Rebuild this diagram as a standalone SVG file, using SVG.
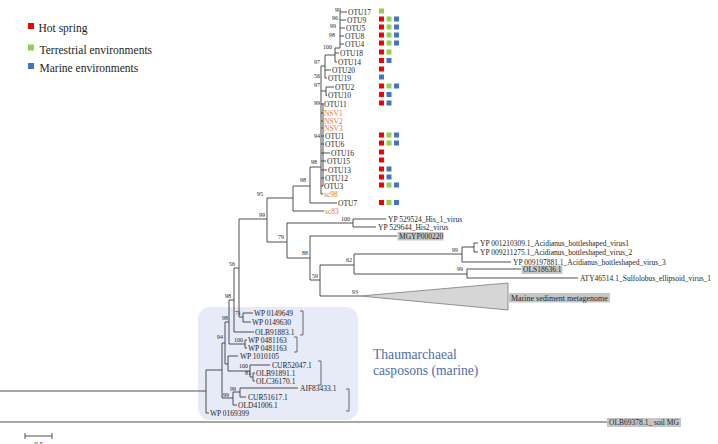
<svg xmlns="http://www.w3.org/2000/svg" width="718" height="444" viewBox="0 0 718 444">
<style>
text{font-family:"Liberation Serif","Times New Roman",serif;fill:#1e1e1e}
.t{font-size:7.5px}
.bs{font-size:6px;text-anchor:end}
.o{fill:#e07a35}
.lg{font-size:11.5px}
.ln{stroke:#3c3c3c;stroke-width:0.9;fill:none}
.br{stroke:#4a4a4a;stroke-width:0.8;fill:none}
.hl{fill:#c6c6c6}
.r{fill:#f40000}.g{fill:#92d050}.b{fill:#4472c4}
.big{font-size:13.6px;fill:#4f6ea6}
</style>
<rect width="718" height="444" fill="#ffffff"/>
<g id="legend">
<rect class="r" x="28" y="23" width="6" height="6"/><text class="lg" x="38.5" y="32">Hot spring</text>
<rect class="g" x="28" y="44.5" width="6" height="6"/><text class="lg" x="39.5" y="53.5">Terrestrial environments</text>
<rect class="b" x="28" y="63" width="6" height="6"/><text class="lg" x="39.5" y="71.5">Marine environments</text>
</g>
<g id="thaum-box">
<rect x="198" y="307" width="160" height="113" rx="12" fill="#e7eaf7"/>
<text class="big" x="373" y="359">Thaumarchaeal</text>
<text class="big" x="373" y="375">casposons (marine)</text>
</g>
<g id="connectors">
<path class="ln" d="M0 391H206M0 422H607
M206 370V413M206 413H209M206 370H222
M222 343V398M222 398H233M222 343H225
M233 392V405M233 405H237M233 392H240
M240 388V397M240 388H298M240 397H246
M225 322V364M225 364H228M225 322H229
M228 356V371M228 356H238M228 371H250
M250 365V377M250 365H270M250 377H253
M253 373V381M253 373H255M253 381H255
M229 300V344M229 344H245M229 300H234
M245 340V348M245 340H247M245 348H247
M234 268V332M234 332H254M234 268H239
M239 219V317M239 317H243M239 219H267
M243 313V322M243 313H253M243 322H251
M267 198V242M267 242H287M267 198H293
M287 223V258M287 223H353M287 258H310
M353 219V227M353 219H386M353 227H376
M310 236V280M310 236H397M310 280H320
M320 265V296M320 265H354M320 296H360
M354 254V274M354 254H462M354 274H467
M462 247V262M462 247H474M462 262H511
M474 243V252M474 243H478M474 252H478
M467 269V278M467 269H521M467 278H578
M293 186V211M293 211H324M293 186H310
M310 167V203M310 203H337M310 167H321
M321 66V194M323 103V186
M321 194H323M321 186H323M321 178H324M321 170H327M321 161H326M321 153H330M321 144H324M321 136H324
M321 128H323M321 121H323M321 113H323M321 104H323
M326 87V95.5M326 87H334M326 95.5H327M321 91H326
M325 55V78M325 55H335M325 70H331M325 78H327M321 66H325
M335 48V62M335 53H339M335 62H337
M340 12V48M335 48H340
M340 12H347M340 20H346M340 28H345M340 36H344M340 44H344"/>
<polygon points="360,296 508,283 508,310" fill="#d6d6d6" stroke="#7a7a7a" stroke-width="0.8"/>
<path class="br" d="M300 311H303V335H300M294 337H297V352H294M318 361H321V385H318M346 389H349V411H346"/>
<path class="ln" d="M25 436H52M25 433V439M52 433V439"/>
</g>
<g id="bootstrap">
<text class="bs" x="341" y="12.3">99</text>
<text class="bs" x="338" y="19.5">96</text>
<text class="bs" x="336" y="28">99</text>
<text class="bs" x="335" y="37">98</text>
<text class="bs" x="332" y="49">100</text>
<text class="bs" x="320" y="64">97</text>
<text class="bs" x="320" y="78">56</text>
<text class="bs" x="320" y="86.5">97</text>
<text class="bs" x="320" y="105">99</text>
<text class="bs" x="320" y="138">94</text>
<text class="bs" x="317" y="164">98</text>
<text class="bs" x="306" y="182">98</text>
<text class="bs" x="263" y="196">95</text>
<text class="bs" x="265" y="217">99</text>
<text class="bs" x="284" y="239">79</text>
<text class="bs" x="350" y="221">100</text>
<text class="bs" x="308" y="255">88</text>
<text class="bs" x="352" y="262">62</text>
<text class="bs" x="318" y="278">59</text>
<text class="bs" x="358" y="294">93</text>
<text class="bs" x="458" y="252">99</text>
<text class="bs" x="463" y="271">99</text>
<text class="bs" x="235" y="266">56</text>
<text class="bs" x="231" y="298">98</text>
<text class="bs" x="228" y="320">98</text>
<text class="bs" x="223" y="339">94</text>
<text class="bs" x="241" y="315">71</text>
<text class="bs" x="243" y="342">100</text>
<text class="bs" x="248" y="368">100</text>
<text class="bs" x="251" y="375">81</text>
<text class="bs" x="236" y="391">99</text>
<text class="bs" x="229" y="397">99</text>
</g>
<g id="OTU17"><text class="t" x="348" y="14.6">OTU17</text><rect class="g" x="379" y="8.5" width="5" height="5"/></g>
<g id="OTU9"><text class="t" x="347" y="22.6">OTU9</text><rect class="r" x="379" y="16.5" width="5" height="5"/><rect class="g" x="386.5" y="16.5" width="5" height="5"/><rect class="b" x="394" y="16.5" width="5" height="5"/></g>
<g id="OTU5"><text class="t" x="346" y="30.6">OTU5</text><rect class="r" x="379" y="24.5" width="5" height="5"/><rect class="g" x="386.5" y="24.5" width="5" height="5"/><rect class="b" x="394" y="24.5" width="5" height="5"/></g>
<g id="OTU8"><text class="t" x="345" y="38.6">OTU8</text><rect class="r" x="379" y="32.5" width="5" height="5"/><rect class="g" x="386.5" y="32.5" width="5" height="5"/><rect class="b" x="394" y="32.5" width="5" height="5"/></g>
<g id="OTU4"><text class="t" x="345" y="46.6">OTU4</text><rect class="r" x="379" y="40.5" width="5" height="5"/><rect class="g" x="386.5" y="40.5" width="5" height="5"/><rect class="b" x="394" y="40.5" width="5" height="5"/></g>
<g id="OTU18"><text class="t" x="340" y="55.6">OTU18</text><rect class="r" x="379" y="49.5" width="5" height="5"/><rect class="g" x="386.5" y="49.5" width="5" height="5"/></g>
<g id="OTU14"><text class="t" x="338" y="64.6">OTU14</text><rect class="r" x="379" y="58" width="5" height="5"/><rect class="b" x="386.5" y="58" width="5" height="5"/></g>
<g id="OTU20"><text class="t" x="332" y="72.6">OTU20</text><rect class="r" x="379" y="66.5" width="5" height="5"/></g>
<g id="OTU19"><text class="t" x="328" y="80.6">OTU19</text><rect class="b" x="379" y="74.5" width="5" height="5"/></g>
<g id="OTU2"><text class="t" x="335" y="89.6">OTU2</text><rect class="r" x="379" y="83.5" width="5" height="5"/><rect class="g" x="386.5" y="83.5" width="5" height="5"/><rect class="b" x="394" y="83.5" width="5" height="5"/></g>
<g id="OTU10"><text class="t" x="328" y="98">OTU10</text><rect class="r" x="379" y="92" width="5" height="5"/><rect class="b" x="386.5" y="92" width="5" height="5"/></g>
<g id="OTU11"><text class="t" x="324" y="106.5">OTU11</text><rect class="r" x="379" y="100.5" width="5" height="5"/><rect class="b" x="386.5" y="100.5" width="5" height="5"/></g>
<g id="NSV1"><text class="t o" x="324" y="115.6">NSV1</text></g>
<g id="NSV2"><text class="t o" x="324" y="123.6">NSV2</text></g>
<g id="NSV3"><text class="t o" x="324" y="130.6">NSV3</text></g>
<g id="OTU1"><text class="t" x="325" y="138.6">OTU1</text><rect class="r" x="379" y="132.5" width="5" height="5"/><rect class="g" x="386.5" y="132.5" width="5" height="5"/><rect class="b" x="394" y="132.5" width="5" height="5"/></g>
<g id="OTU6"><text class="t" x="325" y="146.6">OTU6</text><rect class="r" x="379" y="140.5" width="5" height="5"/><rect class="g" x="386.5" y="140.5" width="5" height="5"/><rect class="b" x="394" y="140.5" width="5" height="5"/></g>
<g id="OTU16"><text class="t" x="331" y="155.6">OTU16</text><rect class="r" x="379" y="149.5" width="5" height="5"/></g>
<g id="OTU15"><text class="t" x="327" y="163.6">OTU15</text><rect class="r" x="379" y="157.5" width="5" height="5"/></g>
<g id="OTU13"><text class="t" x="328" y="172.6">OTU13</text><rect class="r" x="379" y="166.5" width="5" height="5"/><rect class="b" x="386.5" y="166.5" width="5" height="5"/></g>
<g id="OTU12"><text class="t" x="325" y="180.6">OTU12</text><rect class="r" x="379" y="174.5" width="5" height="5"/><rect class="b" x="386.5" y="174.5" width="5" height="5"/></g>
<g id="OTU3"><text class="t" x="324" y="188.6">OTU3</text><rect class="r" x="379" y="182.5" width="5" height="5"/><rect class="g" x="386.5" y="182.5" width="5" height="5"/><rect class="b" x="394" y="182.5" width="5" height="5"/></g>
<g id="sc98"><text class="t o" x="324" y="196.6">sc98</text></g>
<g id="OTU7"><text class="t" x="338" y="205.6">OTU7</text><rect class="r" x="379" y="200" width="5" height="5"/><rect class="g" x="386.5" y="200" width="5" height="5"/><rect class="b" x="394" y="200" width="5" height="5"/></g>
<g id="sc83"><text class="t o" x="325" y="213.6">sc83</text></g>
<g id="His1"><text class="t" x="388" y="221.6">YP 529524_His_1_virus</text></g>
<g id="His2"><text class="t" x="378" y="229.6">YP 529644_His2_virus</text></g>
<g id="MGYP000220"><rect class="hl" x="397.5" y="232" width="46" height="8.5"/><text class="t" x="399" y="238.6">MGYP000220</text></g>
<g id="ABV1"><text class="t" x="480" y="245.6">YP 001210309.1_Acidianus_bottleshaped_virus1</text></g>
<g id="ABV2"><text class="t" x="480" y="254.6">YP 009211275.1_Acidianus_bottleshaped_virus_2</text></g>
<g id="ABV3"><text class="t" x="513" y="264.6">YP 009197881.1_Acidianus_bottleshaped_virus_3</text></g>
<g id="OLS18636"><rect class="hl" x="521.5" y="265.5" width="41" height="8.5"/><text class="t" x="523" y="272.2">OLS18636.1</text></g>
<g id="ATY46514"><text class="t" x="580" y="280.6">ATY46514.1_Sulfolobus_ellipsoid_virus_1</text></g>
<g id="marine-sediment"><rect class="hl" x="509" y="293" width="101" height="9.5"/><text x="511" y="300.6" font-size="8">Marine sediment metagenome</text></g>
<g id="WP0149649"><text class="t" x="254" y="315.6">WP 0149649</text></g>
<g id="WP0149630"><text class="t" x="252" y="324.6">WP 0149630</text></g>
<g id="OLB91883"><text class="t" x="255" y="334.6">OLB91883.1</text></g>
<g id="WP0481163a"><text class="t" x="248" y="342.6">WP 0481163</text></g>
<g id="WP0481163b"><text class="t" x="248" y="350.6">WP 0481163</text></g>
<g id="WP1010105"><text class="t" x="240" y="358.6">WP 1010105</text></g>
<g id="CUR52047"><text class="t" x="272" y="367.6">CUR52047.1</text></g>
<g id="OLB91891"><text class="t" x="256" y="375.6">OLB91891.1</text></g>
<g id="OLC36170"><text class="t" x="256" y="383.6">OLC36170.1</text></g>
<g id="AIF83433"><text class="t" x="300" y="390.6">AIF83433.1</text></g>
<g id="CUR51617"><text class="t" x="248" y="399.6">CUR51617.1</text></g>
<g id="OLD41006"><text class="t" x="238" y="407.6">OLD41006.1</text></g>
<g id="WP0169399"><text class="t" x="210" y="415.6">WP 0169399</text></g>
<g id="OLB69378"><rect class="hl" x="607" y="418" width="74" height="9"/><text class="t" x="609" y="424.6">OLB69378.1_ soil MG</text></g>
<g id="scale"><text x="38.5" y="445.5" font-size="7" text-anchor="middle">0.5</text></g>
</svg>
